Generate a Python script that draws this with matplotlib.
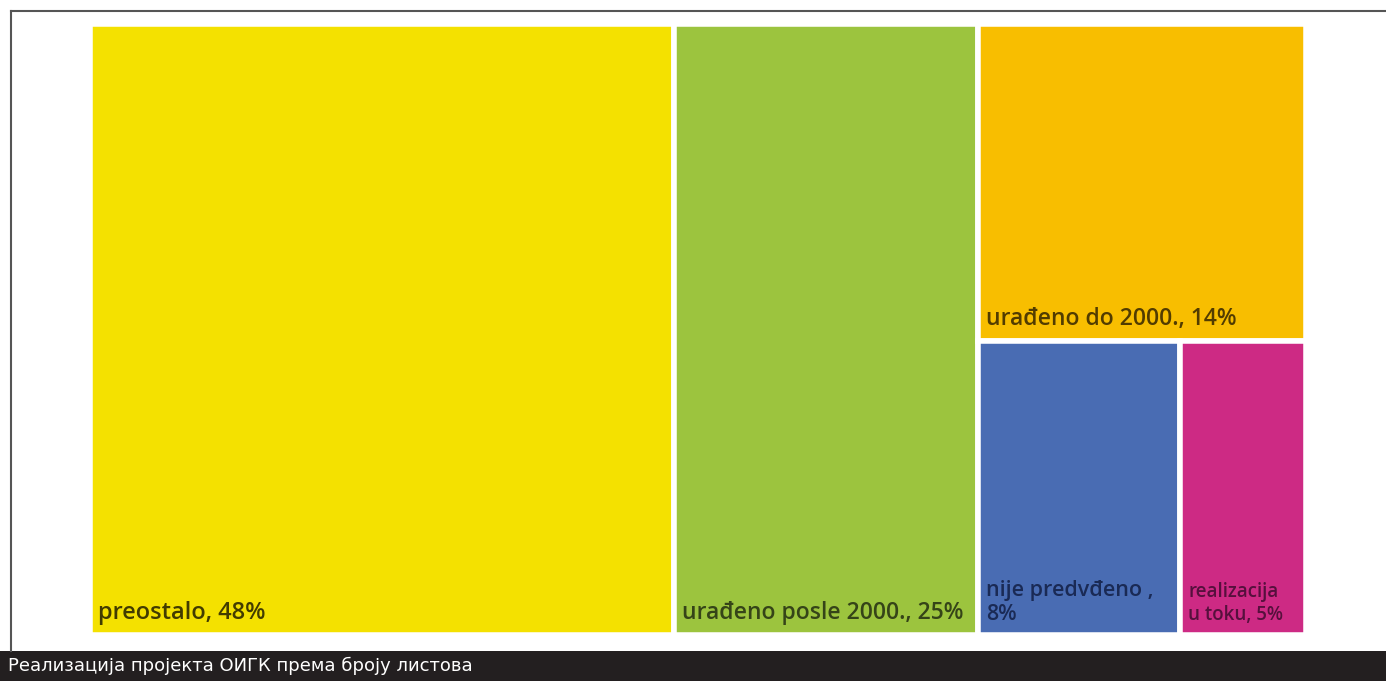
import matplotlib.pyplot as plt
from matplotlib.patches import Rectangle

labels = ['preostalo, 48%', 'urađeno posle 2000., 25%', 'urađeno do 2000., 14%',
          'nije predvđeno ,\n8%', 'realizacija\nu toku, 5%']
values = [48, 25, 14, 8, 5]
colors = ['#F4E100', '#9CC43E', '#F8BE00', '#496CB3', '#CD2A84']
text_colors = ['#423c00', '#354418', '#523c00', '#1a2a55', '#56103d']
font_sizes = [17, 16.5, 16.5, 15.5, 13.5]
caption = 'Реализација пројекта ОИГК према броју листова'

total = sum(values)

# simple treemap layout: two big columns, then the rest split into top / bottom row
rects = []
x = 0
for v in values[:2]:
    w = v / total * 100
    rects.append((x, 0, w, 100))
    x += w
rest = sum(values[2:])
w_rest = 100 - x
h_top = values[2] / rest * 100
rects.append((x, 100 - h_top, w_rest, h_top))
bx = x
for v in values[3:]:
    w = v / sum(values[3:]) * w_rest
    rects.append((bx, 0, w, 100 - h_top))
    bx += w

fig = plt.figure(figsize=(13.86, 6.81), dpi=100)
ax = fig.add_axes([90 / 1386, 46 / 681, 1216 / 1386, 611 / 681])
ax.set_xlim(0, 100)
ax.set_ylim(0, 100)
ax.axis('off')

for (rx, ry, rw, rh), c, lab, tc, fs in zip(rects, colors, labels, text_colors, font_sizes):
    ax.add_patch(Rectangle((rx, ry), rw, rh, facecolor=c, edgecolor='white', linewidth=4))
    ax.annotate(lab, (rx, ry), xytext=(6, 7), textcoords='offset points',
                ha='left', va='bottom', fontsize=fs, color=tc,
                family='Open Sans', fontweight='semibold', linespacing=1.2)

# frame lines and caption bar
fig.add_artist(plt.Line2D([11 / 1386, 11 / 1386], [30 / 681, 670 / 681], color='#555555', lw=1.5))
fig.add_artist(plt.Line2D([11 / 1386, 1], [670 / 681, 670 / 681], color='#555555', lw=1.5))
fig.add_artist(Rectangle((0, 0), 1, 30 / 681, transform=fig.transFigure,
                         facecolor='#231F20', edgecolor='none'))
fig.text(8 / 1386, 15 / 681, caption, color='white', fontsize=13, va='center', ha='left',
         family=['Liberation Sans Narrow', 'DejaVu Sans'])

fig.savefig('out.png', dpi=100)
